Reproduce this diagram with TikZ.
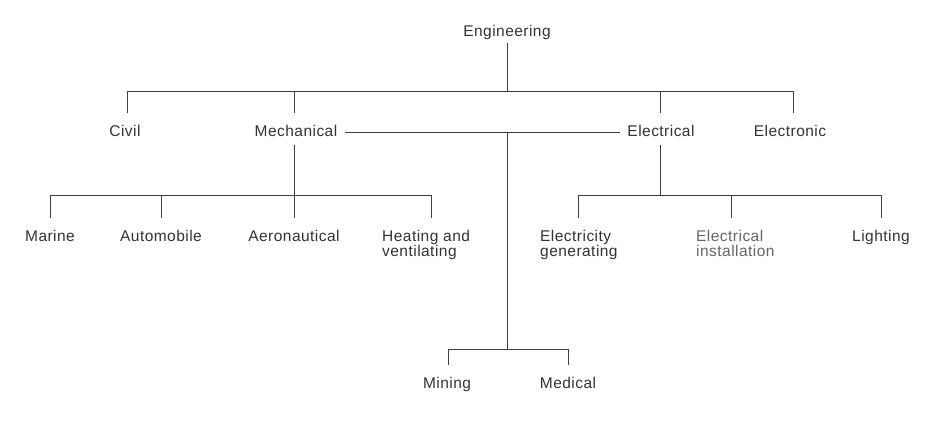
\documentclass[tikz,border=0pt]{standalone}
\usepackage{fontspec}
\setmainfont[LetterSpace=3]{Liberation Sans}
\begin{document}
\begin{tikzpicture}[x=1pt,y=-1pt,
  lbl/.style={inner sep=0pt,font=\fontsize{15.5}{15}\selectfont,text=black!80,anchor=base},
  lbl2/.style={inner sep=0pt,font=\fontsize{15.5}{15}\selectfont,text=black!80,align=left,anchor=base west},
  ln/.style={draw=black!75,line width=0.9pt}]
\useasboundingbox[fill=white] (0,0) rectangle (944,445);
% nodes
\node[lbl] (eng) at (507,36) {Engineering};
\node[lbl] (civ) at (125,136) {Civil};
\node[lbl] (mech) at (296,136) {Mechanical};
\node[lbl] (elec) at (661,136) {Electrical};
\node[lbl] (eltn) at (790,136) {Electronic};
\node[lbl] (mar) at (50,241) {Marine};
\node[lbl] (auto) at (161,241) {Automobile};
\node[lbl] (aero) at (294,241) {Aeronautical};
\node[lbl2] (heat) at (382,256) {Heating and\\ventilating};
\node[lbl2] (egen) at (540,256) {Electricity\\generating};
\node[lbl2,text=black!60] (einst) at (696,256) {Electrical\\installation};
\node[lbl] (light) at (881,241) {Lighting};
\node[lbl] (min) at (447,388) {Mining};
\node[lbl] (med) at (568,388) {Medical};
% junction coordinates
\coordinate (t0) at (507,43);
\coordinate (t1) at (507,91);
\coordinate (tc) at (127,91);
\coordinate (tm) at (294,91);
\coordinate (te) at (660,91);
\coordinate (tn) at (793,91);
\coordinate (mc) at (507,132);
\coordinate (mb) at (507,349);
% connectors
\draw[ln] (t0) -- (t1);
\draw[ln] (tc) ++(0,22) -- (tc) -- (tn) -- ++(0,22);
\draw[ln] (tm) -- ++(0,22);
\draw[ln] (te) -- ++(0,22);
\draw[ln] (345,132) -- (620,132);
\draw[ln] (mc) -- (mb);
% mechanical subtree
\draw[ln] (294,145) -- (294,195);
\draw[ln] (50,218) -- (50,195) -- (431,195) -- (431,218);
\draw[ln] (161,195) -- (161,218);
\draw[ln] (294,195) -- (294,218);
% electrical subtree
\draw[ln] (660,145) -- (660,195);
\draw[ln] (578,218) -- (578,195) -- (881,195) -- (881,218);
\draw[ln] (731,195) -- (731,218);
% bottom subtree
\draw[ln] (448,365) -- (448,349) -- (568,349) -- (568,365);
\end{tikzpicture}
\end{document}
